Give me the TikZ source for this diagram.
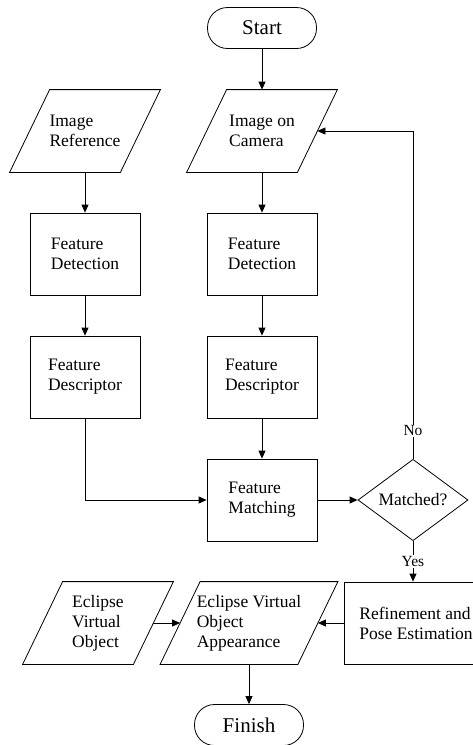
\documentclass[tikz,border=0pt]{standalone}
\usepackage{fontspec}
\setmainfont{Liberation Serif}
\usepackage{tikz}
\usetikzlibrary{arrows.meta, shapes.geometric}
\tikzset{
	tri/.tip={Triangle[length=8pt,width=7pt]},
	term/.style={draw, rounded corners=20pt, minimum width=109pt, minimum height=41pt,
		font=\fontsize{21}{24}\selectfont},
	proc/.style={draw, minimum width=110pt, minimum height=82pt, align=left,
		font=\fontsize{17.5}{20}\selectfont},
	% slanted data box: top shifted right, bottom shifted left
	io/.style={minimum width=110pt, minimum height=82pt, inner sep=1pt,
		align=left, font=\fontsize{17.5}{20}\selectfont,
		append after command={\pgfextra{
			\draw ([xshift=20pt]\tikzlastnode.north west) -- ([xshift=20pt]\tikzlastnode.north east)
			-- ([xshift=-20pt]\tikzlastnode.south east) -- ([xshift=-20pt]\tikzlastnode.south west)
			-- cycle;}}},
	decide/.style={draw, diamond, minimum width=110pt, minimum height=80pt, inner sep=0pt,
		font=\fontsize{17.5}{20}\selectfont},
	lbl/.style={fill=white, inner sep=1pt, font=\fontsize{15.5}{18}\selectfont},
}

\begin{document}
\begin{tikzpicture}[x=1pt, y=-1pt, thick]
	% page frame
	\path[use as bounding box, clip] (0,0) rectangle (473,745);
	
	% Left column
	\node[term] (start) at (262,28) {Start};
	\node[io] (imgref) at (85,131) {Image\\Reference};
	\node[proc] (detL) at (85,254) {Feature\\Detection};
	\node[proc] (descL) at (85,377) {Feature\\Descriptor};
	
	% Middle column
	\node[io] (imgcam) at (262,131) {Image on\\Camera};
	\node[proc] (detM) at (262,254) {Feature\\Detection};
	\node[proc] (descM) at (262,377) {Feature\\Descriptor};
	\node[proc] (match) at (262,500) {Feature\\Matching};
	
	% Decision and bottom row
	\node[decide] (matched) at (413,500) {Matched?};
	\node[proc, minimum width=144pt] (refine) at (416,623) {Refinement and\\Pose Estimation};
	\node[io, minimum width=137pt] (appear) at (249,623) {Eclipse Virtual\\Object\\Appearance};
	\node[io] (virtobj) at (98,623) {Eclipse\\Virtual\\Object};
	\node[term] (finish) at (249,725) {Finish};
	
	% Connectors
	\draw[-tri] (start) -- (imgcam);
	\draw[-tri] (imgref) -- (detL);
	\draw[-tri] (detL) -- (descL);
	\draw[-tri] (descL) |- (match);
	\draw[-tri] (imgcam) -- (detM);
	\draw[-tri] (detM) -- (descM);
	\draw[-tri] (descM) -- (match);
	\draw[-tri] (match) -- (matched);
	\draw[-tri] (matched.north) |- node[lbl, pos=0.043] {No} (imgcam.east);
	\draw[-tri] (matched.south) -- node[lbl] {Yes} (refine.north -| matched.south);
	\draw[-tri] (refine) -- (appear);
	\draw[-tri] (virtobj) -- (appear);
	\draw[-tri] (appear) -- (finish);
\end{tikzpicture}
\end{document}
